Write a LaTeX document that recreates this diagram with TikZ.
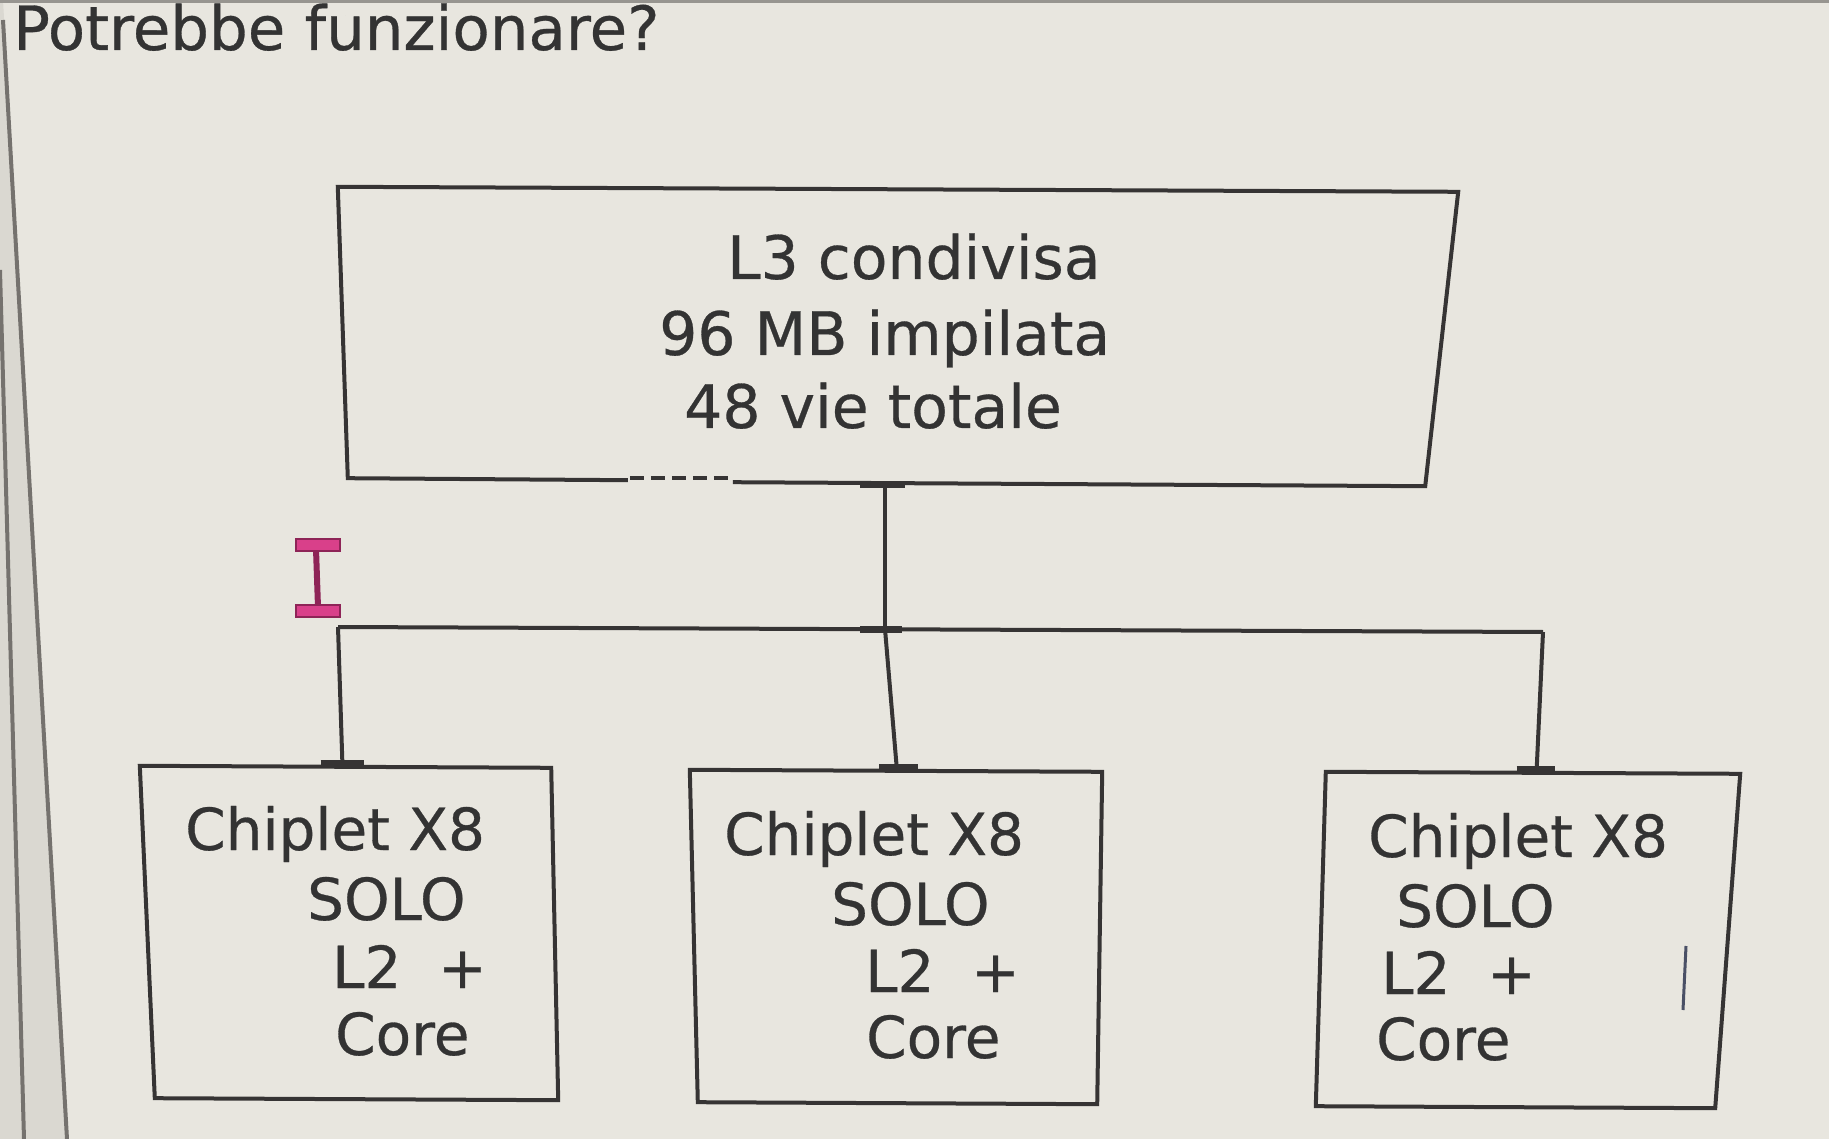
\documentclass[tikz,border=0pt]{standalone}
\usepackage{fontspec}
\setmainfont{DejaVu Sans}
\newfontfamily\screenfont{DejaVu Sans}[FakeBold=0.5]
\usetikzlibrary{calc}
\definecolor{bg}{HTML}{E8E6DF}
\definecolor{band}{HTML}{DAD8D1}
\definecolor{frameline}{HTML}{75726E}
\definecolor{ink}{HTML}{333333}
\definecolor{edge}{HTML}{363434}
\definecolor{cursorfill}{HTML}{D9408A}
\definecolor{cursordark}{HTML}{8E2457}
\definecolor{stray}{HTML}{4A5066}
\begin{document}
\begin{tikzpicture}[x=1pt,y=-1pt,
  txt/.style={font=\screenfont\fontsize{58}{70}\selectfont, text=ink, inner sep=0pt, anchor=base west},
  bigtxt/.style={txt, font=\screenfont\fontsize{60}{72}\selectfont},
  boxnode/.style={rectangle, draw=none, inner sep=0pt},
  outline/.style={draw=edge, line width=4pt, line join=miter},
  conn/.style={draw=edge, line width=4pt},
  tee/.style={draw=edge, line width=7pt},
]
\useasboundingbox (0,0) rectangle (1829,1139);
% background and screen frame
\fill[bg] (0,0) rectangle (1829,1139);
\fill[band] (0,0) -- (3,0) -- (67,1139) -- (0,1139) -- cycle;
\draw[frameline, line width=4pt] (3,20) -- (67,1139);
\draw[frameline, line width=4pt] (0,270) -- (24,1139);
\draw[frameline!70!bg, line width=3pt] (0,1.5) -- (1829,1.5);

% title
\node[txt, font=\screenfont\fontsize{61}{72}\selectfont] (title) at (13,50) {Potrebbe funzionare?};

% box nodes
\node[boxnode, minimum width=1100pt, minimum height=294pt] (top) at (892,336) {};
\node[boxnode, minimum width=407pt, minimum height=332pt] (left) at (350.5,933) {};
\node[boxnode, minimum width=406pt, minimum height=332pt] (mid) at (897,937) {};
\node[boxnode, minimum width=407pt, minimum height=334pt] (right) at (1524.5,940) {};

% top box outline
\draw[outline] ($(top.south west)+(286,-3)$) -- ($(top.south west)+(6,-5)$) -- ($(top.north west)+(-4,-2)$) -- ($(top.north east)+(16,3)$) -- ($(top.south east)+(-17,3)$) -- ($(top.south west)+(391,-1)$);
\draw[draw=edge, line width=4pt, dash pattern=on 14pt off 7pt] ($(top.south west)+(288,-5)$) -- ($(top.south west)+(391,-5)$);

% bottom box outlines
\draw[outline] ($(left.north west)+(-7,-1)$) -- ($(left.north east)+(-3,1)$) -- ($(left.south east)+(4,1)$) -- ($(left.south west)+(8,-1)$) -- cycle;
\draw[outline] ($(mid.north west)+(-4,-1)$) -- ($(mid.north east)+(2,1)$) -- ($(mid.south east)+(-3,1)$) -- ($(mid.south west)+(4,-1)$) -- cycle;
\draw[outline] ($(right.north west)+(5,-1)$) -- ($(right.north east)+(12,1)$) -- ($(right.south east)+(-13,1)$) -- ($(right.south west)+(-5,-1)$) -- cycle;

% connectors
\coordinate (J) at (885,629);
\coordinate (HL) at (338,627);
\coordinate (HR) at (1543,632);
\draw[conn] (J |- top.south) -- (J);
\draw[conn] (HL) -- (HR);
\draw[conn] (HL) -- ($(left.north)+(-8,0)$);
\draw[conn] (J) -- (mid.north);
\draw[conn] (HR) -- ($(right.north)+(12,0)$);

% tee marks
\draw[tee] ($(J |- top.south)+(-25,1)$) -- ++(45,0);
\draw[tee] ($(J)+(-25,0)$) -- ++(42,0);
\draw[tee] ($(left.north)+(-30,-3)$) -- ++(43,0);
\draw[tee] ($(mid.north)+(-18,-3)$) -- ++(39,0);
\draw[tee] ($(right.north)+(-8,-3)$) -- ++(38,0);

% I-beam cursor
\draw[cursordark, line width=6pt] (316,549) -- (318,607);
\draw[fill=cursorfill, draw=cursordark, line width=2pt] (296,539) rectangle (340,551);
\draw[fill=cursorfill, draw=cursordark, line width=2pt] (296,605) rectangle (340,617);

% stray bar inside right box
\draw[stray, line width=3pt] (1686,946) -- (1683,1010);

% texts top box
\node[bigtxt] (t1) at (727,279) {L3 condivisa};
\node[bigtxt] (t2) at (659,355) {96 MB impilata};
\node[bigtxt] (t3) at (684,428) {48 vie totale};

% texts left box
\node[txt] (a1) at (185,850) {Chiplet X8};
\node[txt] (a2) at (307,920) {SOLO};
\node[txt] (a3) at (332,988) {L2~~+};
\node[txt] (a4) at (335,1055) {Core};

% texts middle box
\node[txt] (b1) at (724,855) {Chiplet X8};
\node[txt] (b2) at (831,925) {SOLO};
\node[txt] (b3) at (865,992) {L2~~+};
\node[txt] (b4) at (866,1058) {Core};

% texts right box
\node[txt] (c1) at (1368,857) {Chiplet X8};
\node[txt] (c2) at (1396,927) {SOLO};
\node[txt] (c3) at (1381,994) {L2~~+};
\node[txt] (c4) at (1376,1060) {Core};
\end{tikzpicture}
\end{document}
